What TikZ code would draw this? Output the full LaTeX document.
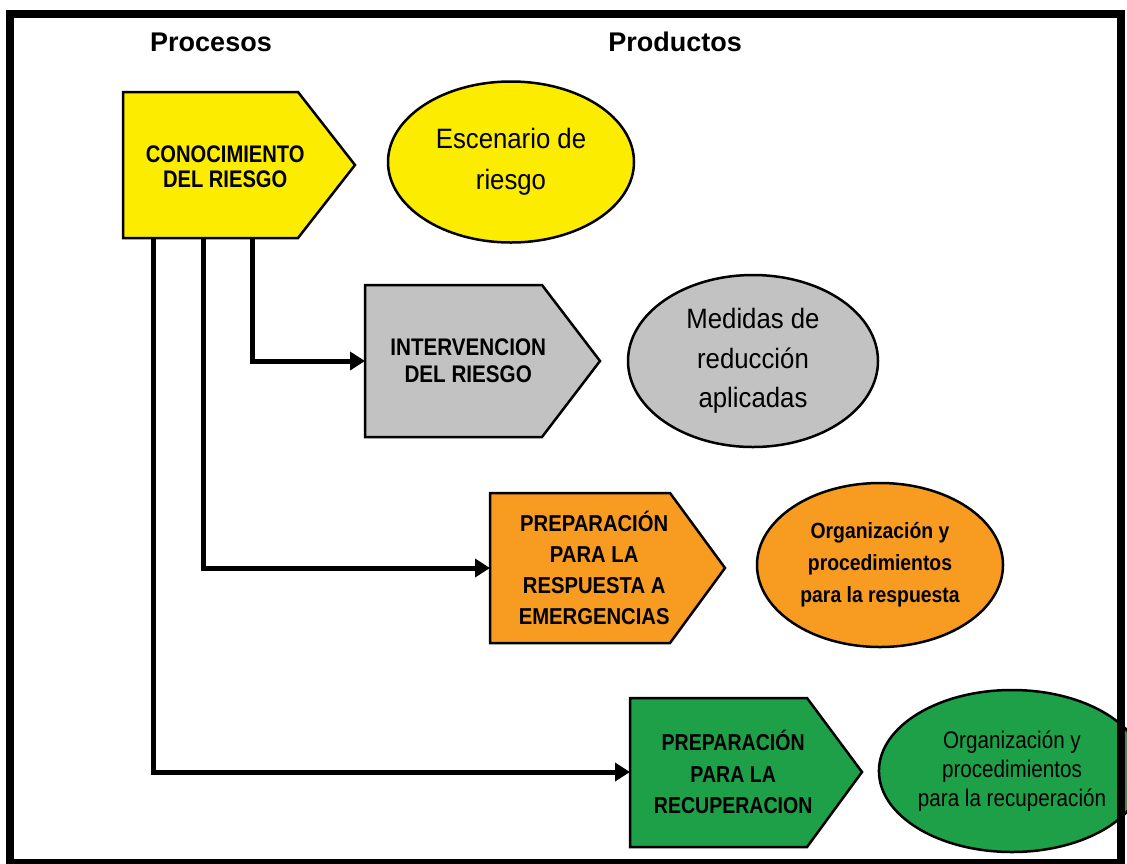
\documentclass[tikz,border=0pt]{standalone}
\usepackage{graphicx}
\usepackage{fontspec}
\setmainfont{Liberation Sans}
\usetikzlibrary{arrows.meta,calc,shapes.geometric}
\definecolor{cyel}{RGB}{252,236,0}
\definecolor{cgray}{RGB}{194,194,194}
\definecolor{corange}{RGB}{247,156,32}
\definecolor{cgreen}{RGB}{30,160,72}
\newcommand{\sqz}[2]{\scalebox{#1}[1]{#2}}
\tikzset{
  pent/.style={draw=black, line width=2.5pt, line join=miter},
  ptext/.style={anchor=west, inner sep=0pt, align=center, text=black},
  prod/.style={ellipse, draw=black, line width=2.5pt, inner sep=0pt, align=center, text=black},
  link/.style={line width=5pt, -{Triangle[length=15pt,width=18pt]}},
  head/.style={font=\fontsize{27}{30}\selectfont\bfseries, inner sep=0pt}
}
\begin{document}
\begin{tikzpicture}[x=1pt,y=-1pt]
\useasboundingbox (0,0) rectangle (1127,863);
\fill[white] (0,0) rectangle (1127,863);

% headings
\node[head] (hproc) at (211,42) {Procesos};
\node[head] (hprod) at (675,42) {Productos};

% pentagons (process shapes)
\draw[pent, fill=cyel] (123,92) -- (298,92) -- (355,165) -- (298,238) -- (123,238) -- cycle;
\draw[pent, fill=cgray] (365,285) -- (542,285) -- (600,361) -- (542,437) -- (365,437) -- cycle;
\draw[pent, fill=corange] (490,493) -- (670,493) -- (725,568) -- (670,643) -- (490,643) -- cycle;
\draw[pent, fill=cgreen] (630,698) -- (807,698) -- (862,772) -- (807,847) -- (630,847) -- cycle;

\node[ptext, minimum width=204pt, minimum height=146pt, font=\fontsize{24}{25}\selectfont\bfseries]
  (con) at (123,167) {\sqz{0.84}{CONOCIMIENTO}\\\sqz{0.84}{DEL RIESGO}};
\node[ptext, minimum width=206pt, minimum height=152pt, font=\fontsize{24}{27}\selectfont\bfseries]
  (int) at (365,361) {\sqz{0.86}{INTERVENCION}\\\sqz{0.86}{DEL RIESGO}};
\node[ptext, minimum width=208pt, minimum height=150pt, font=\fontsize{23}{31}\selectfont\bfseries]
  (pre) at (490,568) {\sqz{0.88}{PREPARACIÓN}\\\sqz{0.88}{PARA LA}\\\sqz{0.88}{RESPUESTA A}\\\sqz{0.88}{EMERGENCIAS}};
\node[ptext, minimum width=206pt, minimum height=149pt, font=\fontsize{23}{31.5}\selectfont\bfseries]
  (rec) at (630,772) {\sqz{0.85}{PREPARACIÓN}\\\sqz{0.85}{PARA LA}\\\sqz{0.85}{RECUPERACION}};

% products
\node[prod, fill=cyel, minimum width=246pt, minimum height=161pt, font=\fontsize{28}{41}\selectfont]
  (esc) at (511,162) {\sqz{0.92}{Escenario de}\\\sqz{0.92}{riesgo}};
\node[prod, fill=cgray, minimum width=250pt, minimum height=172pt, font=\fontsize{28}{39.5}\selectfont]
  (med) at (753,361) {\sqz{0.92}{Medidas de}\\\sqz{0.92}{reducción}\\\sqz{0.92}{aplicadas}};
\node[prod, fill=corange, minimum width=246pt, minimum height=164pt, font=\fontsize{22}{32}\selectfont\bfseries]
  (orr) at (880,565) {\sqz{0.88}{Organización y}\\\sqz{0.88}{procedimientos}\\\sqz{0.88}{para la respuesta}};
\node[prod, fill=cgreen, minimum width=236pt, minimum height=162pt, font=\fontsize{24}{29}\selectfont]
  (orc) at (1012,771) {\sqz{0.86}{Organización y}\\\sqz{0.86}{procedimientos}\\\sqz{0.86}{para la recuperación}};

% connectors
\coordinate (s1) at ($(con.west)+(129,71)$);
\coordinate (s2) at ($(con.west)+(80,71)$);
\coordinate (s3) at ($(con.west)+(30,71)$);
\draw[link] (s1) |- (int.west);
\draw[link] (s2) |- (pre.west);
\draw[link] (s3) |- (rec.west);

% frame
\draw[line width=8pt] (10,14) -- (1121,14) -- (1121,863) -- (10,863) -- cycle;
\end{tikzpicture}
\end{document}
